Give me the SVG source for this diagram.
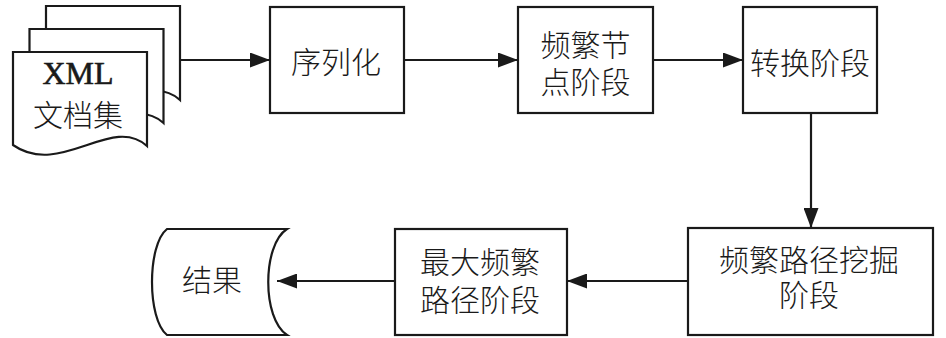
<svg xmlns="http://www.w3.org/2000/svg" width="946" height="338" viewBox="0 0 946 338">
<style>
.box{fill:#fff;stroke:#1a1a1a;stroke-width:2.2}
.ln{fill:none;stroke:#1a1a1a;stroke-width:2.2}
.t{font-family:"Noto Sans CJK SC","Noto Sans",sans-serif;font-size:30px;font-weight:300;fill:#1a1a1a;text-anchor:middle}
.s{font-family:"Liberation Serif","Times New Roman",serif;font-size:32px;fill:#1a1a1a;text-anchor:middle}
</style>
<defs>
<marker id="ah" markerUnits="userSpaceOnUse" viewBox="0 0 20 15" refX="20" refY="7.5" markerWidth="20" markerHeight="15" orient="auto">
<path d="M0,0 L20,7.5 L0,15 Z" fill="#1a1a1a"/>
</marker>
<path id="page" d="M13,52 H147 V146 C112,114 60,178 13,145 Z"/>
</defs>
<g id="xml-docs">
<use href="#page" class="box" transform="translate(33,-46)"/>
<use href="#page" class="box" transform="translate(16.5,-23)"/>
<use href="#page" class="box"/>
<text class="s" x="78" y="84" stroke="#1a1a1a" stroke-width="0.6">XML</text>
<text class="t" x="78" y="126">文档集</text>
</g>
<g id="serialize">
<rect class="box" x="270" y="7" width="134" height="106"/>
<text class="t" x="336" y="73">序列化</text>
</g>
<g id="freq-node">
<rect class="box" x="518" y="7" width="135" height="106"/>
<text class="t" x="585.5" y="56">频繁节</text>
<text class="t" x="585.5" y="93">点阶段</text>
</g>
<g id="convert">
<rect class="box" x="743" y="7" width="134" height="106"/>
<text class="t" x="810" y="74">转换阶段</text>
</g>
<g id="mining">
<rect class="box" x="688" y="228" width="245" height="107"/>
<text class="t" x="809" y="271">频繁路径挖掘</text>
<text class="t" x="809" y="306">阶段</text>
</g>
<g id="max-freq">
<rect class="box" x="395" y="229" width="172" height="106"/>
<text class="t" x="480" y="273">最大频繁</text>
<text class="t" x="480" y="311">路径阶段</text>
</g>
<g id="result">
<path class="box" d="M287,229 H167 C147,245 147,319 167,335 H287 C262,319 262,245 287,229 Z"/>
<text class="t" x="212" y="291">结果</text>
</g>
<g id="connectors">
<line class="ln" x1="180" y1="60" x2="270" y2="60" marker-end="url(#ah)"/>
<line class="ln" x1="404" y1="60" x2="518" y2="60" marker-end="url(#ah)"/>
<line class="ln" x1="653" y1="60" x2="743" y2="60" marker-end="url(#ah)"/>
<line class="ln" x1="811" y1="113" x2="811" y2="228" marker-end="url(#ah)"/>
<line class="ln" x1="688" y1="281" x2="567" y2="281" marker-end="url(#ah)"/>
<line class="ln" x1="395" y1="281" x2="277" y2="281" marker-end="url(#ah)"/>
</g>
</svg>
